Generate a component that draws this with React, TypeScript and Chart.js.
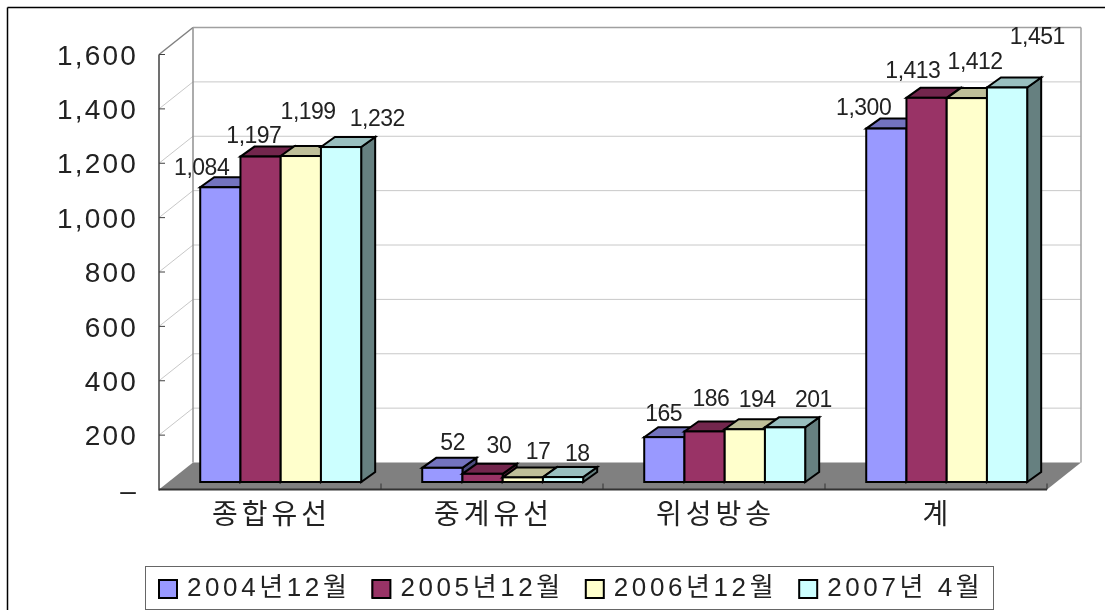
import React, { useEffect, useRef } from "react";
import { Chart, registerables } from "chart.js";

Chart.register(...registerables);

const categories = ["종합유선", "중계유선", "위성방송", "계"];
const seriesNames = ["2004년12월", "2005년12월", "2006년12월", "2007년 4월"];
const values2004 = [1084, 52, 165, 1300];
const values2005 = [1197, 30, 186, 1413];
const values2006 = [1199, 17, 194, 1412];
const values2007 = [1232, 18, 201, 1451];
const seriesValues = [values2004, values2005, values2006, values2007];

const frontColors = ["#9999FF", "#993366", "#FFFFCC", "#CCFFFF"];
const topColors = ["#7373BF", "#73264D", "#BFBF99", "#99BFBF"];
const sideColors = ["#4D4D80", "#4D1A33", "#80806A", "#668080"];

// label placement relative to the top centre of each bar front [series][category]
const labelOffsets = [
  [[-18, -19], [11, -24], [0, -22], [-22, -20]],
  [[-6, -20], [17, -27], [7, -32], [-13, -26]],
  [[8, -43], [16, -25], [13, -29], [9, -35]],
  [[37, -27], [15, -22], [29, -27], [31, -50]],
];

const FONT = '"Liberation Sans", "Noto Sans CJK KR", sans-serif';
const WALL_DX = 34;
const WALL_DY = -27;
const BAR_SHIFT_X = 10.7;
const BAR_SHIFT_Y = -7.5;
const BAR_DX = 14;
const BAR_DY = -10;
const fmt = (v: number) => v.toLocaleString("en-US");

const poly = (ctx: any, pts: number[][], fill: string | null, stroke: string | null, lw = 1) => {
  ctx.beginPath();
  pts.forEach((p, i) => (i ? ctx.lineTo(p[0], p[1]) : ctx.moveTo(p[0], p[1])));
  ctx.closePath();
  if (fill) {
    ctx.fillStyle = fill;
    ctx.fill();
  }
  if (stroke) {
    ctx.strokeStyle = stroke;
    ctx.lineWidth = lw;
    ctx.lineJoin = "miter";
    ctx.stroke();
  }
};
const line = (ctx: any, x0: number, y0: number, x1: number, y1: number, color: string, lw: number) => {
  ctx.beginPath();
  ctx.moveTo(x0, y0);
  ctx.lineTo(x1, y1);
  ctx.strokeStyle = color;
  ctx.lineWidth = lw;
  ctx.stroke();
};

// runs a library method with a given canvas letter spacing
const withSpacing = (chart: any, obj: any, method: string, spacing: string) => {
  const orig = obj[method].bind(obj);
  obj[method] = (...a: any[]) => {
    chart.ctx.letterSpacing = spacing;
    const r = orig(...a);
    chart.ctx.letterSpacing = "0px";
    return r;
  };
};

const scene3d = {
  id: "scene3d",
  beforeLayout(chart: any) {
    const l = chart.legend;
    if (l && !l.__wrapped) {
      const f = l.fit.bind(l);
      l.fit = () => {
        f();
        l.height = 44;
      };
      withSpacing(chart, l, "fit", "3.6px");
      withSpacing(chart, l, "draw", "3.6px");
      withSpacing(chart, chart.scales.x, "drawLabels", "4px");
      withSpacing(chart, chart.scales.y, "drawLabels", "2.2px");
      l.__wrapped = true;
    }
  },
  afterLayout(chart: any) {
    const l = chart.legend;
    const pad = l.options.labels.padding;
    l.left = 159 - pad;
    l.right = 1100;
    l.top = 576 - pad;
  },
  beforeDraw(chart: any) {
    const ctx = chart.ctx;
    const { left, right, top, bottom } = chart.chartArea;
    const y = chart.scales.y;
    ctx.save();
    ctx.fillStyle = "#FFFFFF";
    ctx.fillRect(0, 0, chart.width, chart.height);
    // outer frame
    line(ctx, 7.5, 610, 7.5, 7.5, "#000000", 1.5);
    line(ctx, 7.5, 7.5, 1105, 7.5, "#000000", 1.5);
    // gridlines on both walls
    y.ticks.forEach((t: any) => {
      const py = y.getPixelForValue(t.value);
      if (t.value > 0 && t.value < y.max) {
        line(ctx, left, py, left + WALL_DX, py + WALL_DY, "#C8C8C8", 1);
        line(ctx, left + WALL_DX, py + WALL_DY, right + WALL_DX, py + WALL_DY, "#C8C8C8", 1);
      }
    });
    // walls
    line(ctx, left, top, left + WALL_DX, top + WALL_DY, "#808080", 1.5);
    line(ctx, left + WALL_DX, bottom + WALL_DY, left + WALL_DX, top + WALL_DY, "#909090", 1.5);
    line(ctx, left + WALL_DX, top + WALL_DY, right + WALL_DX, top + WALL_DY, "#A0A0A0", 1.5);
    line(ctx, right + WALL_DX, top + WALL_DY, right + WALL_DX, bottom + WALL_DY, "#A0A0A0", 1.5);
    // floor
    poly(ctx, [[left, bottom], [right, bottom], [right + WALL_DX, bottom + WALL_DY], [left + WALL_DX, bottom + WALL_DY]], "#808080", null);
    // axes
    line(ctx, left, top, left, bottom + 1, "#404040", 1.5);
    line(ctx, left, bottom, right, bottom, "#333333", 2);
    y.ticks.forEach((t: any) => {
      const py = y.getPixelForValue(t.value);
      if (t.value > 0) line(ctx, left, py, left + 6, py, "#404040", 1);
    });
    const x = chart.scales.x;
    const half = (x.getPixelForValue(1) - x.getPixelForValue(0)) / 2;
    categories.forEach((_, i) => {
      const px = x.getPixelForValue(i) + half;
      line(ctx, px, bottom - 6, px, bottom, "#333333", 1);
    });
    // legend frame
    ctx.strokeStyle = "#666666";
    ctx.lineWidth = 1;
    ctx.strokeRect(145.5, 566.5, 848, 43);
    ctx.restore();
  },
  beforeDatasetsDraw(chart: any) {
    // later series sit in front of earlier ones, so paint them in series order
    const ctx = chart.ctx;
    seriesValues.forEach((_, i) => {
      const meta = chart.getDatasetMeta(i);
      ctx.save();
      ctx.translate(BAR_SHIFT_X, BAR_SHIFT_Y);
      meta.data.forEach((b: any) => {
        const x0 = b.x - b.width / 2;
        const x1 = b.x + b.width / 2;
        poly(ctx, [[x1, b.y], [x1 + BAR_DX, b.y + BAR_DY], [x1 + BAR_DX, b.base + BAR_DY], [x1, b.base]], sideColors[i], "#000000", 2);
        poly(ctx, [[x0, b.y], [x1, b.y], [x1 + BAR_DX, b.y + BAR_DY], [x0 + BAR_DX, b.y + BAR_DY]], topColors[i], "#000000", 2);
      });
      meta.controller.draw();
      meta.data.forEach((b: any) => {
        ctx.strokeStyle = "#000000";
        ctx.lineWidth = 2;
        ctx.strokeRect(b.x - b.width / 2, b.y, b.width, b.base - b.y);
      });
      ctx.restore();
    });
    return false;
  },
  afterDraw(chart: any) {
    const ctx = chart.ctx;
    ctx.save();
    // value labels
    ctx.letterSpacing = "-0.5px";
    ctx.font = `23px ${FONT}`;
    ctx.fillStyle = "#222222";
    ctx.textAlign = "center";
    ctx.textBaseline = "middle";
    chart.data.datasets.forEach((ds: any, s: number) => {
      chart.getDatasetMeta(s).data.forEach((b: any, c: number) => {
        const [ox, oy] = labelOffsets[s][c];
        ctx.fillText(fmt(ds.data[c]), b.x + BAR_SHIFT_X - 0.7 + ox, b.y + BAR_SHIFT_Y + oy);
      });
    });
    ctx.letterSpacing = "0px";
    // legend swatches
    chart.legend.legendHitBoxes.forEach((h: any, i: number) => {
      const ty = h.top + (h.height - 18) / 2;
      ctx.fillStyle = frontColors[i];
      ctx.strokeStyle = "#000000";
      ctx.lineWidth = 2;
      ctx.fillRect(h.left - 1, ty, 19, 18);
      ctx.strokeRect(h.left - 0, ty, 18, 18);
    });
    ctx.restore();
  },
};

export default function App() {
  const ref = useRef<HTMLCanvasElement>(null);
  useEffect(() => {
    const chart = new Chart(ref.current!, {
      type: "bar",
      data: {
        labels: categories,
        datasets: seriesValues.map((data, i) => ({
          label: seriesNames[i],
          data,
          clip: false,
          backgroundColor: frontColors[i],
          borderWidth: 0,
          categoryPercentage: 0.725,
          barPercentage: 1,
        })),
      } as any,
      options: {
        responsive: false,
        animation: false,
        layout: { padding: { top: 54.5, right: 58, bottom: 1, left: 0 } },
        plugins: {
          tooltip: { enabled: false },
          legend: {
            position: "bottom",
            align: "start",
            labels: {
              boxWidth: 15,
              boxHeight: 18,
              padding: 22,
              color: "#222222",
              font: { family: FONT, size: 26 },
            },
          },
        },
        scales: {
          x: {
            afterFit: (s: any) => {
              s.height = 75.5;
            },
            grid: { display: false, drawTicks: false },
            border: { display: false },
            ticks: { color: "#222222", padding: 10, labelOffset: 1.5, maxRotation: 0, autoSkip: false, font: { family: FONT, size: 28 } },
          },
          y: {
            min: 0,
            max: 1600,
            afterFit: (s: any) => {
              s.width = 159;
            },
            grid: { display: false, drawTicks: false },
            border: { display: false },
            ticks: {
              stepSize: 200,
              color: "#222222",
              padding: 21,
              labelOffset: 2.5,
              font: { family: FONT, size: 28 },
              callback: (v: any) => (v === 0 ? "–" : fmt(Number(v))),
            },
          },
        },
      },
      plugins: [scene3d],
    } as any);
    return () => chart.destroy();
  }, []);
  return (
    <canvas
      ref={ref}
      width={1105}
      height={610}
      style={{ position: "fixed", left: 0, top: 0, display: "block" }}
    />
  );
}
